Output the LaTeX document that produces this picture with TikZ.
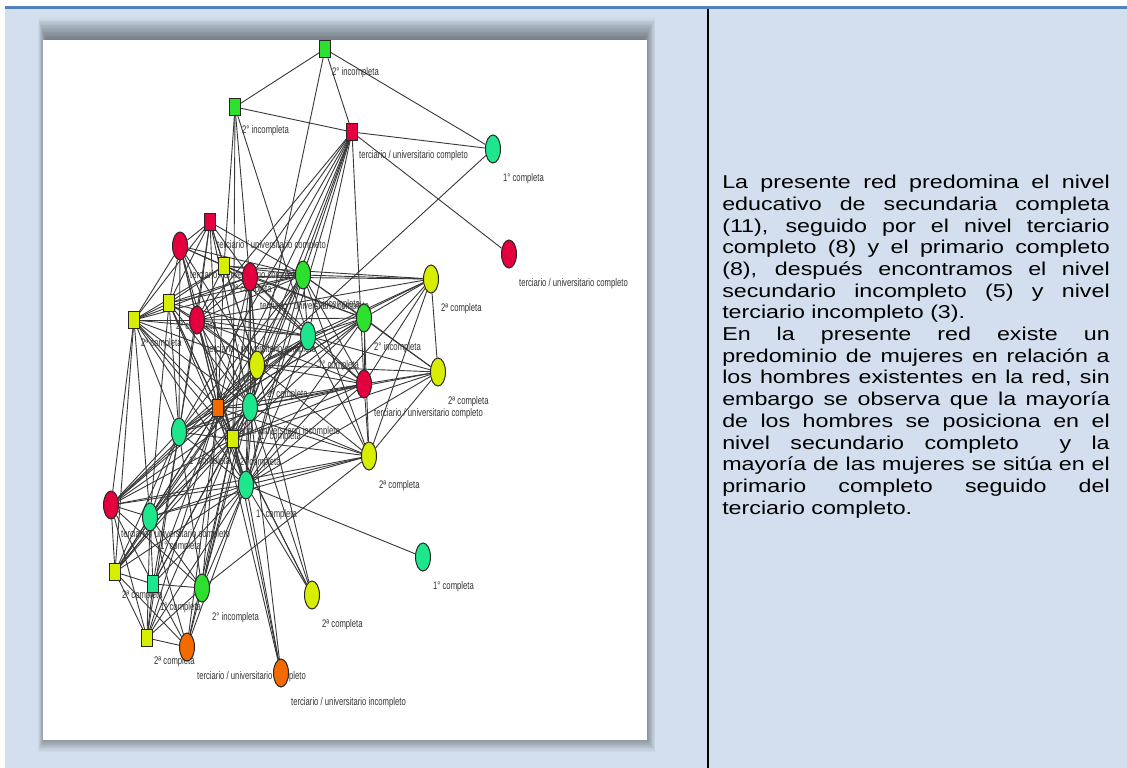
\documentclass[tikz,border=0pt]{standalone}
\usepackage{fontspec}
\setmainfont{Liberation Sans}
\usetikzlibrary{shapes.geometric}

\definecolor{celda}{HTML}{D3DFEE}
\definecolor{bordeazul}{HTML}{4F81BD}
\definecolor{nrojo}{HTML}{E4003E}
\definecolor{nverde}{HTML}{2EE02E}
\definecolor{nturq}{HTML}{1EE68C}
\definecolor{namar}{HTML}{D8EE00}
\definecolor{nnaranja}{HTML}{F26A00}

\newcommand{\tuc}{terciario / universitario completo}
\newcommand{\tui}{terciario / universitario incompleto}

\pgfdeclarelayer{fondo}
\pgfdeclarelayer{lazos}
\pgfdeclarelayer{rotulos}
\pgfsetlayers{fondo,lazos,rotulos,main}

\tikzset{
  persona/.style={ellipse, draw=black!85, line width=1pt, minimum width=15pt, minimum height=28pt, inner sep=0pt},
  caja/.style={rectangle, draw=black!85, line width=1pt, minimum width=11pt, minimum height=17pt, inner sep=0pt},
  lazo/.style={draw=black!78, line width=0.9pt},
  etiqueta/.style={anchor=west, inner sep=0pt, text=black!80, font=\fontsize{11}{12}\selectfont, xscale=0.7},
}

\begin{document}
\begin{tikzpicture}[x=1pt, y=-1pt]
	\useasboundingbox (0,0) rectangle (1127,768);
	
	% 1. nodos circulares (mujeres) con su rotulo
	\foreach \n/\px/\py/\c/\t in {D/493/149/nturq/1° completa, E/509/254/nrojo/\tuc, G/180/246/nrojo/\tuc,
		I/250/277/nrojo/\tuc, J/303/275/nverde/2° incompleta, M/197/320/nrojo/\tuc, N/308/336/nturq/1° completa,
		O/364/318/nverde/2° incompleta, P/257/365/namar/2ª completa, Q/364/384/nrojo/\tuc, S/250/407/nturq/1° completa,
		T/179/432/nturq/1° completa, V/369/456/namar/2ª completa, W/246/485/nturq/1° completa,
		X/431/279/namar/2ª completa, Y/438/372/namar/2ª completa, Z/111/505/nrojo/\tuc, a/150/517/nturq/1° completa,
		d/202/588/nverde/2° incompleta, f/187/647/nnaranja/\tuc, g/281/673/nnaranja/\tui,
		h/312/595/namar/2ª completa, i/423/557/nturq/1° completa}{
		\node[persona, fill=\c] (\n) at (\px,\py) {};
		\begin{pgfonlayer}{rotulos}
			\node[etiqueta] (l\n) at (\px+10,\py+30) {\t};
		\end{pgfonlayer}
	}
	
	% 2. nodos cuadrados (hombres) con su rotulo
	\foreach \n/\px/\py/\c/\t in {A/325/49/nverde/2° incompleta, B/235/107/nverde/2° incompleta, C/352/132/nrojo/\tuc,
		F/210/222/nrojo/\tuc, H/224/266/namar/2ª completa, K/169/303/namar/2ª completa, L/134/320/namar/2ª completa,
		R/218/408/nnaranja/\tui, U/233/439/namar/2ª completa, b/115/572/namar/2ª completa,
		c/153/584/nturq/1° completa, e/147/638/namar/2ª completa}{
		\node[caja, fill=\c] (\n) at (\px,\py) {};
		\begin{pgfonlayer}{rotulos}
			\node[etiqueta] (l\n) at (\px+7,\py+24) {\t};
		\end{pgfonlayer}
	}
	
	% 3. vinculos de la red
	\begin{pgfonlayer}{lazos}
		\foreach \s/\ts in {A/{B,C,D,S}, B/{C,H,U,P,N}, C/{D,E,Q,I,M,P,R,S,T,W,J,N}, D/{P},
			F/{G,H,I,J,K,L,M,P,R,S,T}, G/{H,I,K,L,M,J,P,R,T,S,W}, H/{I,J,K,L,M,N,O,P,R,X},
			I/{J,K,L,M,N,O,P,R,S,U,W,Q,X}, J/{K,L,M,N,O,X,P,R,S,Y,T,W,Q,V}, K/{L,M,N,P,R,S,T,U,W,a},
			L/{M,N,P,R,S,T,U,W,Z,a,b}, M/{N,O,P,R,S,T,U,W,Q,X}, N/{O,P,R,S,T,U,W,X,Y,Q,V,Z,b},
			O/{P,Q,R,S,X,Y,V,T,W,U}, P/{Q,R,S,T,U,W,X,Y,V,Z,a,b,d,h}, Q/{R,S,T,U,V,X,Y,W},
			R/{S,T,U,V,W,Z,a,b,c,d,e,f,g,h}, S/{T,U,V,W,Y,Z,a,b,c,d,g,h}, T/{U,W,Z,a,b,c,d,e},
			U/{V,W,Z,a,b,c,d,e,f,g,h,Y}, V/{W,X,Y,Z,a,d}, W/{Z,a,b,c,d,e,f,g,h,i,X,Y}, X/{Y},
			Z/{a,b,c,d,e}, a/{b,c,d,e,f}, b/{c,e,f}, c/{d,e,f}, d/{e,f}, e/{f}}
			\foreach \t in \ts \draw[lazo] (\s) -- (\t);
	\end{pgfonlayer}
	
	% 4. celda de la tabla, sombra y marco blanco de la imagen
	\begin{pgfonlayer}{fondo}
		\fill[white] (0,0) rectangle (1127,768);
		\fill[celda] (5,7.5) rectangle (1127,768);
		\draw[bordeazul, line width=3pt] (5,7.5) -- (1127,7.5);
		\foreach \k in {1,...,16}
			\fill[black, opacity=0.03] (46-\k*0.5,40-\k*1.35) rectangle (644+\k*0.7,734+\k*1.1);
		\fill[white] (43,40) rectangle (647,740);
		\draw[black, line width=2.2pt] (708,9) -- (708,768);
	\end{pgfonlayer}
	
	% 5. texto de la columna derecha
	\node[anchor=north west, inner sep=0pt, xscale=1.25, text width=310pt, align=justify,
		font=\fontsize{18.6}{21.7}\selectfont] (texto) at (722,175)
		{La presente red predomina el nivel\linebreak
		educativo de secundaria completa\linebreak
		(11), seguido por el nivel terciario\linebreak
		completo (8) y el primario completo\linebreak
		(8), después encontramos el nivel\linebreak
		secundario incompleto (5) y nivel\linebreak
		terciario incompleto (3).\par
		En la presente red existe un\linebreak
		predominio de mujeres en relación a\linebreak
		los hombres existentes en la red, sin\linebreak
		embargo se observa que la mayoría\linebreak
		de los hombres se posiciona en el\linebreak
		nivel secundario completo\ \ y la\linebreak
		mayoría de las mujeres se sitúa en el\linebreak
		primario completo seguido del\linebreak
		terciario completo.};
\end{tikzpicture}
\end{document}
